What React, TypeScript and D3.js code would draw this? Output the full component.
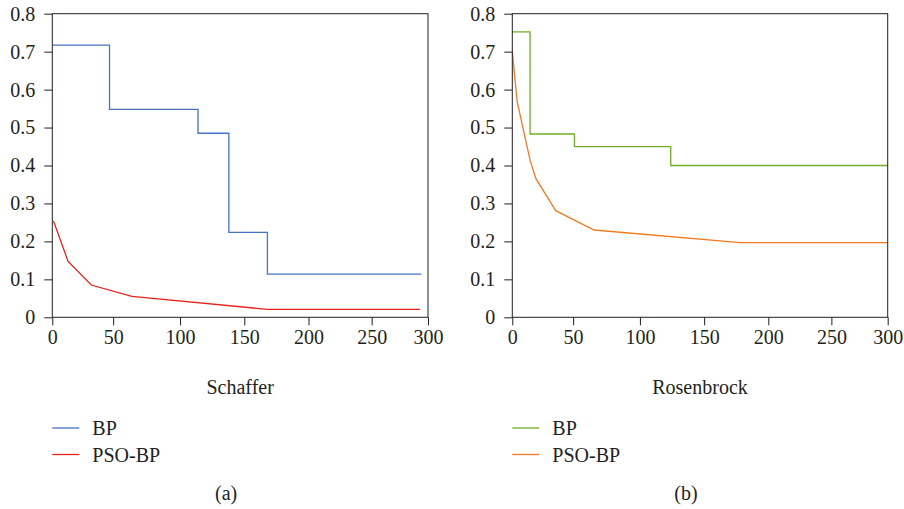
import * as d3 from "d3";
import { useRef, useEffect } from "react";

// iteration ticks and error ticks
const xTicks = [0, 50, 100, 150, 200, 250, 300];
const yTicks = [0, 0.1, 0.2, 0.3, 0.4, 0.5, 0.6, 0.7, 0.8];

// Schaffer (a)
const schafferBpX = [0, 47, 114, 138, 168, 294];
const schafferBpY = [0.717, 0.548, 0.485, 0.224, 0.114, 0.114];
const schafferPsoX = [1, 13, 32, 64, 168, 293];
const schafferPsoY = [0.254, 0.147, 0.085, 0.055, 0.021, 0.021];

// Rosenbrock (b)
const rosenBpX = [0, 14.6, 51, 124, 300];
const rosenBpY = [0.752, 0.483, 0.45, 0.4, 0.4];
const rosenPsoX = [0, 4, 14.6, 19.3, 35.7, 65.7, 178, 300];
const rosenPsoY = [0.70, 0.568, 0.414, 0.366, 0.281, 0.23, 0.197, 0.197];

const legendNames = ["BP", "PSO-BP"];

const FONT = "'Liberation Serif', 'Times New Roman', serif";
const FS = 20;
// the source figure's x ticks are not evenly spaced
const tickFrac = [0, 0.162, 0.34, 0.511, 0.682, 0.85, 1];

function styleAxis(g) {
  g.select(".domain").remove();
  g.attr("font-family", FONT).attr("font-size", FS);
  g.selectAll("text").attr("font-family", FONT).attr("font-size", FS).attr("fill", "#231f20");
  g.selectAll("line").attr("stroke", "#231f20");
}

function Panel({ left, right, title, tag, bp, pso, colors }) {
  const gx = useRef(null);
  const gy = useRef(null);
  const top = 13.7;
  const bottom = 317.3;

  const x = d3.scaleLinear()
    .domain(xTicks)
    .range(tickFrac.map(f => left + f * (right - left)));
  const y = d3.scaleLinear([0, 0.8], [bottom, top]);

  useEffect(() => {
    const ax = d3.axisBottom(x).tickValues(xTicks).tickSize(8).tickPadding(5).tickFormat(d3.format("d"));
    styleAxis(d3.select(gx.current).call(ax));
  }, [left, right]);

  useEffect(() => {
    const ay = d3.axisLeft(y).tickValues(yTicks).tickSize(8).tickPadding(9)
      .tickFormat(d => (d === 0 ? "0" : d3.format(".1f")(d)));
    styleAxis(d3.select(gy.current).call(ay));
  }, [left, right]);

  const step = d3.line().curve(d3.curveStepAfter).x(d => x(d[0])).y(d => y(d[1]));
  const poly = d3.line().x(d => x(d[0])).y(d => y(d[1]));
  const bpPts = bp[0].map((v, i) => [v, bp[1][i]]);
  const psoPts = pso[0].map((v, i) => [v, pso[1][i]]);
  const cx = (left + right) / 2;

  return (
    <g>
      <g ref={gx} transform={`translate(0,${bottom})`} />
      <g ref={gy} transform={`translate(${left},0)`} />
      <path d={poly(psoPts)} fill="none" stroke={colors[1]} strokeWidth={1.3} />
      <path d={step(bpPts)} fill="none" stroke={colors[0]} strokeWidth={1.3} />
      <rect x={left} y={top} width={right - left} height={bottom - top} fill="none" stroke="#231f20" strokeWidth={1} />
      <text x={cx} y={394} textAnchor="middle" fontFamily={FONT} fontSize={FS} fill="#231f20">{title}</text>
      {legendNames.map((n, i) => (
        <g key={n} transform={`translate(${left},${428 + i * 26.5})`}>
          <line x1={0} x2={27} y1={0} y2={0} stroke={colors[i]} strokeWidth={1.3} />
          <text x={40} y={7} fontFamily={FONT} fontSize={FS} fill="#231f20">{n}</text>
        </g>
      ))}
      <text x={cx - 14} y={500} textAnchor="middle" fontFamily={FONT} fontSize={FS} fill="#231f20">{tag}</text>
    </g>
  );
}

export default function App() {
  return (
    <svg width={904} height={509} style={{ position: "absolute", left: 0, top: 0, background: "#fff" }}>
      <Panel left={52.3} right={428} title="Schaffer" tag="(a)"
        bp={[schafferBpX, schafferBpY]} pso={[schafferPsoX, schafferPsoY]}
        colors={["#4472c4", "#e8221a"]} />
      <Panel left={512.3} right={887.7} title="Rosenbrock" tag="(b)"
        bp={[rosenBpX, rosenBpY]} pso={[rosenPsoX, rosenPsoY]}
        colors={["#70ad25", "#f07a22"]} />
    </svg>
  );
}
